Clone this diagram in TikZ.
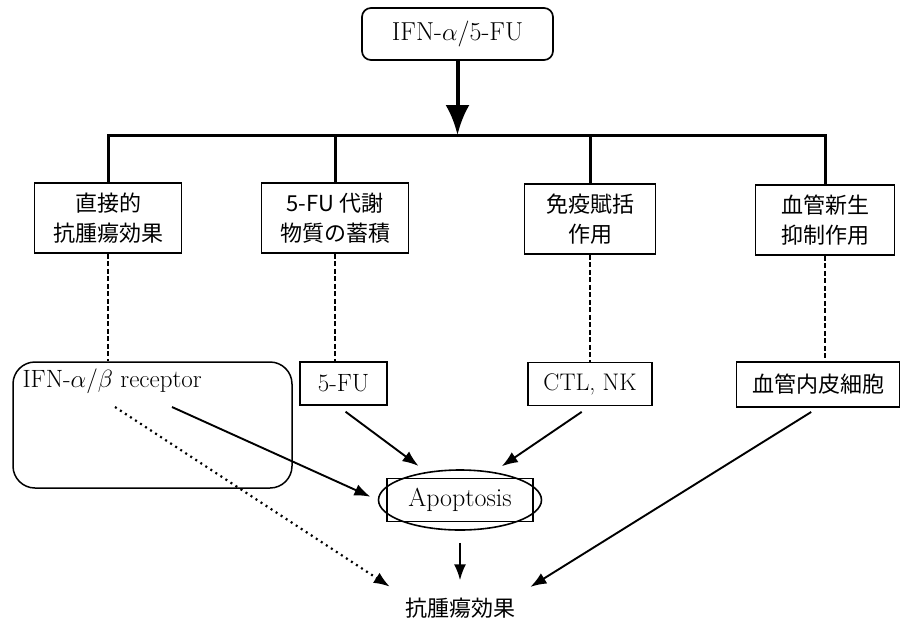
\documentclass[tikz,border=0pt]{standalone}
\usepackage{fontspec}
\usepackage{tikz}
\usetikzlibrary{shapes,arrows,arrows.meta}
\newfontfamily\cjk{Noto Sans CJK JP}
\tikzstyle{topbox} = [rectangle, draw, rounded corners=9pt, line width=1.7pt,
    minimum width=191pt, minimum height=52pt, font=\fontsize{26}{30}\selectfont]
\tikzstyle{block} = [rectangle, draw, line width=1.8pt, align=center,
    minimum height=70pt, font=\cjk\fontsize{22}{30}\selectfont]
\tikzstyle{target} = [rectangle, draw, line width=1.5pt, minimum height=43pt,
    inner sep=0pt, font=\fontsize{25}{28}\selectfont]
\tikzstyle{recbox} = [rectangle, draw, rounded corners=22pt, line width=1.5pt,
    minimum width=279pt, minimum height=126pt]
\tikzstyle{ring} = [ellipse, draw, line width=1.6pt, minimum width=163pt,
    minimum height=60pt, inner sep=0pt, font=\fontsize{26}{28}\selectfont]
\tikzstyle{trunk} = [line width=3pt]
\tikzstyle{link} = [line width=2.2pt, dash pattern=on 5pt off 2.5pt]
\tikzstyle{effect} = [line width=1.9pt, -{Latex[length=16pt,width=12pt]}]
\begin{document}
\begin{tikzpicture}[x=1pt, y=-1pt]
		\useasboundingbox (0,0) rectangle (904,622);
		\node [topbox] (drug) at (457.5,34) {IFN-$\alpha$/5-FU};
		\coordinate (bar) at (457.5,135);
		\node [block, minimum width=147pt] (direct) at (108,218) {直接的\\抗腫瘍効果};
		\node [block, minimum width=147pt] (accum) at (335,218) {5-FU 代謝\\物質の蓄積};
		\node [block, minimum width=131pt] (immune) at (590,219) {免疫賦括\\作用};
		\node [block, minimum width=139pt] (angio) at (825,220) {血管新生\\抑制作用};
		
		\node [recbox] (recbox) at (152.5,425) {};
		\node [anchor=west, font=\fontsize{25}{28}\selectfont] (rec) at (19,381) {IFN-$\alpha$/$\beta$ receptor};
		\coordinate (recA) at (115,407);
		\coordinate (recB) at (172,407);
		\node [target, minimum width=87pt] (fu) at (343.5,383.5) {5-FU};
		\node [target, minimum width=124pt, font=\fontsize{24}{28}\selectfont] (ctl) at (590,384) {CTL, NK};
		\node [target, minimum width=163pt, minimum height=45pt,
			font=\cjk\fontsize{22}{26}\selectfont] (endo) at (818,384.5) {血管内皮細胞};
		\node [ring] (apo) at (460,500) {Apoptosis};
		\node [draw, line width=1.3pt, minimum width=146pt, minimum height=43pt] (apoframe) at (apo.center) {};
		\node [font=\cjk\fontsize{22}{26}\selectfont] (result) at (460,608) {抗腫瘍効果};
		
		\draw [line width=4pt, -{Latex[length=30pt,width=24pt]}] (drug) -- (bar);
		\draw [trunk] (direct.north) |- (bar) -| (angio.north);
		\foreach \n in {accum,immune}
			\draw [trunk] (\n.north) -- (\n.north |- bar);
		\foreach \a/\b in {direct/recbox, accum/fu, immune/ctl, angio/endo}
			\draw [link] (\a.south) -- (\a.south |- \b.north);
		
		\draw [effect, shorten >=8pt] (recB) -- (apo.west);
		\draw [effect, line width=2.2pt, dash pattern=on 2pt off 4pt, shorten >=14pt] (recA) -- (result.north west);
		\draw [effect, shorten <=10pt, shorten >=10pt] (fu.255) -- (apo.140);
		\draw [effect, shorten <=10pt, shorten >=10pt] (ctl.south) -- (apo.40);
		\draw [effect, shorten <=8pt, shorten >=14pt] (endo.south) -- (result.north east);
		\draw [effect, shorten <=12pt, shorten >=14pt] (apo.south) -- (result.north);
\end{tikzpicture}
\end{document}
